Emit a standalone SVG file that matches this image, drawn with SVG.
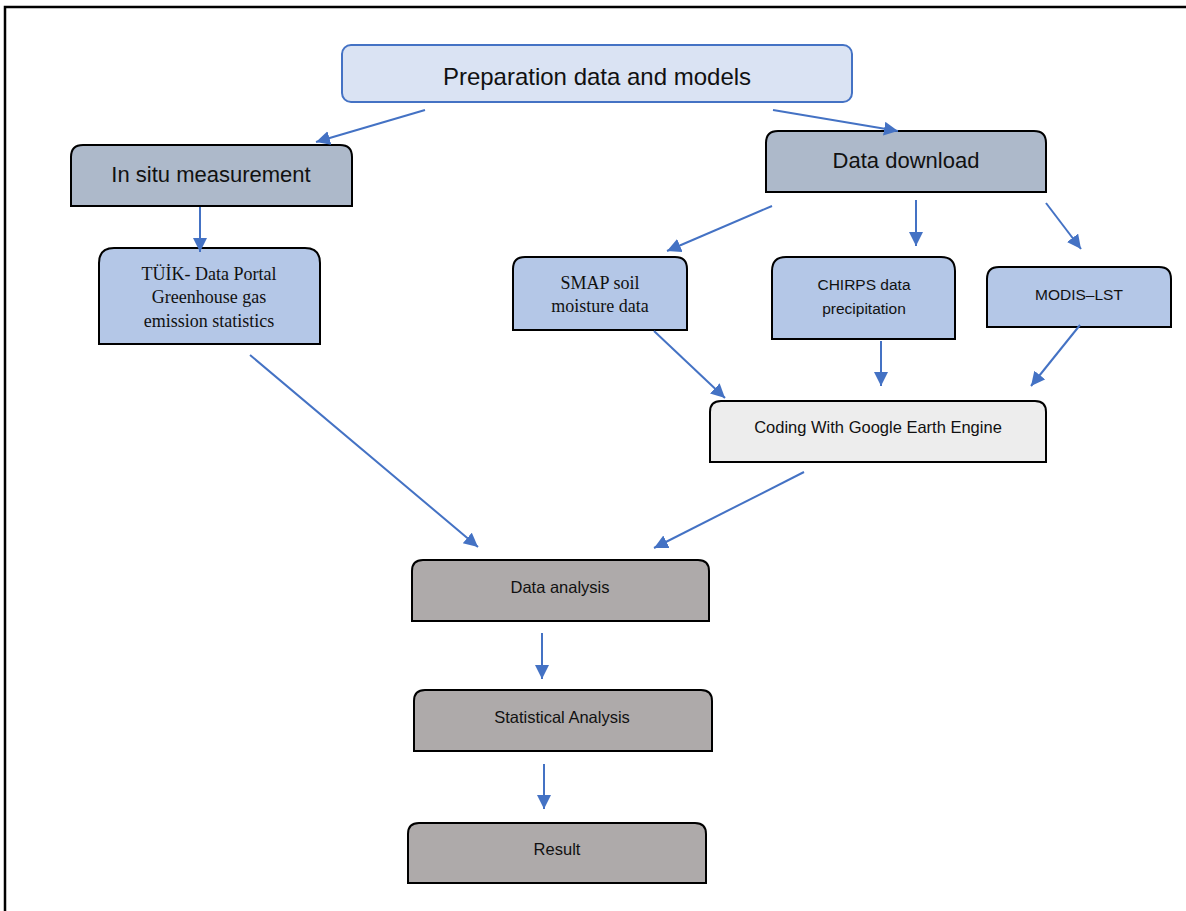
<svg xmlns="http://www.w3.org/2000/svg" width="1186" height="911" viewBox="0 0 1186 911">
<style>
.sans{font-family:"Liberation Sans","Noto Sans",Arial,sans-serif;fill:#111;text-anchor:middle}
.serif{font-family:"Liberation Serif","Times New Roman",serif;fill:#111;text-anchor:middle}
.box{stroke:#000;stroke-width:2}
.conn line{stroke:#4472c4;stroke-width:2;marker-end:url(#ah)}
</style>
<defs>
<marker id="ah" markerUnits="userSpaceOnUse" markerWidth="16" markerHeight="16" refX="14" refY="7" orient="auto">
<path d="M0,0 L14,7 L0,14 Z" fill="#4472c4"/>
</marker>
</defs>
<rect width="1186" height="911" fill="#fff"/>
<path d="M5,911 V7 H1186" fill="none" stroke="#000" stroke-width="2.5"/>

<g id="prep">
<rect x="342" y="45" width="510" height="57" rx="9" fill="#dae3f3" stroke="#4472c4" stroke-width="2"/>
<text class="sans" x="597" y="85" font-size="24">Preparation data and models</text>
</g>
<g id="insitu">
<path class="box" d="M71,206 V157 Q71,145 83,145 H340 Q352,145 352,157 V206 Z" fill="#adb9ca"/>
<text class="sans" x="211" y="182" font-size="22">In situ measurement</text>
</g>
<g id="tuik">
<path class="box" d="M99,344 V263 Q99,248 114,248 H305 Q320,248 320,263 V344 Z" fill="#b4c7e7"/>
<text class="serif" x="209" y="280" font-size="18">TÜİK- Data Portal</text>
<text class="serif" x="209" y="303" font-size="18">Greenhouse gas</text>
<text class="serif" x="209" y="327" font-size="18">emission statistics</text>
</g>
<g id="download">
<path class="box" d="M766,192 V143 Q766,131 778,131 H1034 Q1046,131 1046,143 V192 Z" fill="#adb9ca"/>
<text class="sans" x="906" y="168" font-size="22">Data download</text>
</g>
<g id="smap">
<path class="box" d="M513,330 V269 Q513,257 525,257 H675 Q687,257 687,269 V330 Z" fill="#b4c7e7"/>
<text class="serif" x="600" y="289" font-size="18">SMAP soil</text>
<text class="serif" x="600" y="312" font-size="18">moisture data</text>
</g>
<g id="chirps">
<path class="box" d="M772,339 V271 Q772,257 786,257 H941 Q955,257 955,271 V339 Z" fill="#b4c7e7"/>
<text class="sans" x="864" y="290" font-size="15.5">CHIRPS data</text>
<text class="sans" x="864" y="314" font-size="15.5">precipitation</text>
</g>
<g id="modis">
<path class="box" d="M987,327 V279 Q987,267 999,267 H1159 Q1171,267 1171,279 V327 Z" fill="#b4c7e7"/>
<text class="sans" x="1079" y="300" font-size="15.5">MODIS–LST</text>
</g>
<g id="gee">
<path class="box" d="M710,462 V412 Q710,401 721,401 H1035 Q1046,401 1046,412 V462 Z" fill="#ededed"/>
<text class="sans" x="878" y="433" font-size="16.5">Coding With Google Earth Engine</text>
</g>
<g id="analysis">
<path class="box" d="M412,621 V571 Q412,560 423,560 H698 Q709,560 709,571 V621 Z" fill="#aeaaaa"/>
<text class="sans" x="560" y="593" font-size="16.5">Data analysis</text>
</g>
<g id="stat">
<path class="box" d="M414,751 V701 Q414,690 425,690 H701 Q712,690 712,701 V751 Z" fill="#aeaaaa"/>
<text class="sans" x="562" y="723" font-size="16.5">Statistical Analysis</text>
</g>
<g id="result">
<path class="box" d="M408,883 V834 Q408,823 419,823 H695 Q706,823 706,834 V883 Z" fill="#aeaaaa"/>
<text class="sans" x="557" y="855" font-size="16.5">Result</text>
</g>

<g id="connectors" class="conn">
<line x1="425" y1="110" x2="316" y2="142"/>
<line x1="773" y1="110" x2="898" y2="131"/>
<line x1="200" y1="207" x2="200" y2="252"/>
<line x1="772" y1="206" x2="667" y2="251"/>
<line x1="916" y1="200" x2="916" y2="246"/>
<line x1="1046" y1="203" x2="1081" y2="249"/>
<line x1="654" y1="331" x2="725" y2="398"/>
<line x1="881" y1="341" x2="881" y2="386"/>
<line x1="1080" y1="325" x2="1031" y2="386"/>
<line x1="250" y1="355" x2="478" y2="547"/>
<line x1="804" y1="472" x2="654" y2="548"/>
<line x1="542" y1="633" x2="542" y2="679"/>
<line x1="544" y1="764" x2="544" y2="809"/>
</g>
</svg>
